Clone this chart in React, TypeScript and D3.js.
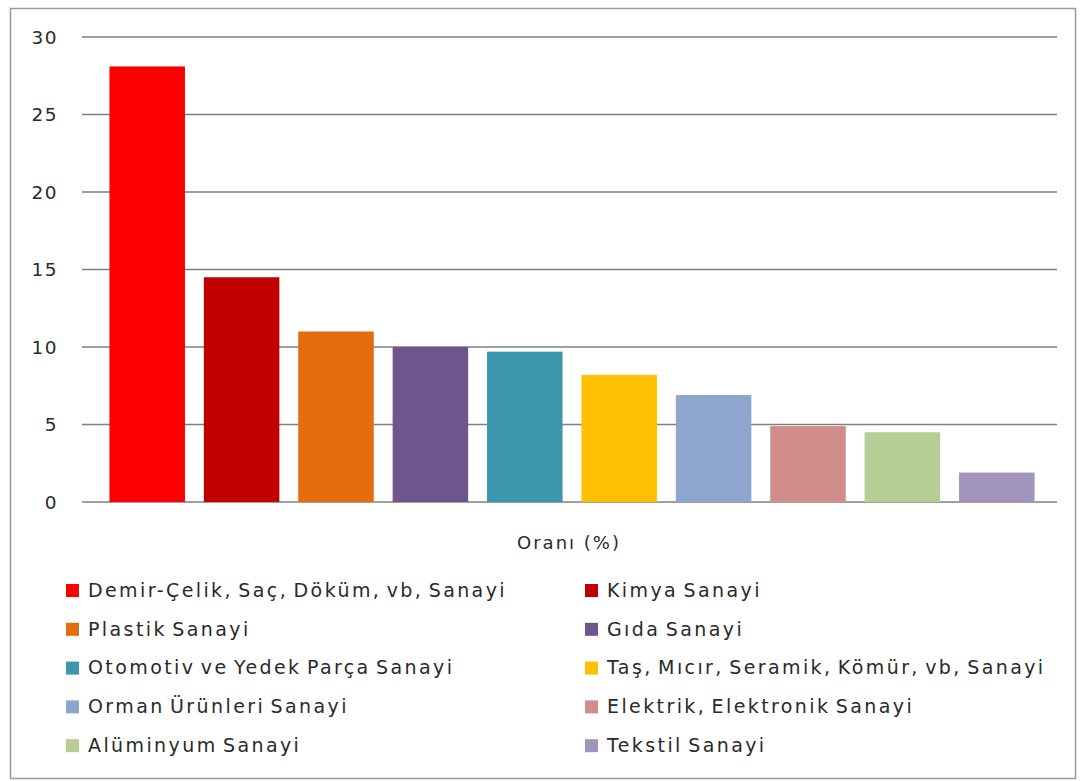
import { useEffect, useRef } from "react";
import * as d3 from "d3";

// Sector shares (%)
const SECTORS = [
  "Demir-Çelik, Saç, Döküm, vb, Sanayi",
  "Kimya Sanayi",
  "Plastik Sanayi",
  "Gıda Sanayi",
  "Otomotiv ve Yedek Parça Sanayi",
  "Taş, Mıcır, Seramik, Kömür, vb, Sanayi",
  "Orman Ürünleri Sanayi",
  "Elektrik, Elektronik Sanayi",
  "Alüminyum Sanayi",
  "Tekstil Sanayi",
];
const SHARES = [28.1, 14.5, 11.0, 10.0, 9.7, 8.2, 6.9, 4.9, 4.5, 1.9];
const COLORS = [
  "#fe0000",
  "#c00000",
  "#e46c0a",
  "#70548e",
  "#3c97ae",
  "#fec000",
  "#8ea6cd",
  "#d38c8c",
  "#b6cd95",
  "#a295bd",
];
const Y_TICKS = [0, 5, 10, 15, 20, 25, 30];
const AXIS_TITLE = "Oranı (%)";

const W = 1083;
const H = 781;
const FONT = "'DejaVu Sans', Verdana, sans-serif";

export default function App() {
  const svgRef = useRef<SVGSVGElement>(null);

  useEffect(() => {
    if (!svgRef.current) return;
    const svg = d3.select(svgRef.current);
    svg.selectAll("*").remove();

    svg.append("rect").attr("width", W).attr("height", H).attr("fill", "#fff");

    // outer frame
    svg
      .append("rect")
      .attr("x", 10.5)
      .attr("y", 8.5)
      .attr("width", 1065)
      .attr("height", 770)
      .attr("fill", "none")
      .attr("stroke", "#9a9a9a")
      .attr("stroke-width", 1.5);

    const x = d3
      .scaleBand<string>()
      .domain(SECTORS)
      .range([100, 1044])
      .paddingInner(0.2)
      .paddingOuter(0.1);

    const y = d3.scaleLinear().domain([0, 30]).range([502, 37]);

    // gridlines + tick labels
    const grid = svg.append("g");
    grid
      .selectAll("line")
      .data(Y_TICKS)
      .join("line")
      .attr("x1", 82)
      .attr("x2", 1057)
      .attr("y1", (d) => y(d))
      .attr("y2", (d) => y(d))
      .attr("stroke", "#7f7f7f")
      .attr("stroke-width", 1.5);

    grid
      .selectAll("text")
      .data(Y_TICKS)
      .join("text")
      .attr("x", 58)
      .attr("y", (d) => y(d))
      .attr("dy", "0.36em")
      .attr("text-anchor", "end")
      .attr("font-family", FONT)
      .attr("font-size", 18.5)
      .attr("letter-spacing", 1.5)
      .attr("fill", "#2a2a2a")
      .text((d) => String(d));

    // bars
    svg
      .append("g")
      .selectAll("rect")
      .data(SECTORS)
      .join("rect")
      .attr("x", (d) => x(d) ?? 0)
      .attr("width", x.bandwidth())
      .attr("y", (_, i) => y(SHARES[i]))
      .attr("height", (_, i) => y(0) - y(SHARES[i]))
      .attr("fill", (_, i) => COLORS[i]);

    // axis title
    svg
      .append("text")
      .attr("x", 569)
      .attr("y", 543)
      .attr("dy", "0.36em")
      .attr("text-anchor", "middle")
      .attr("font-family", FONT)
      .attr("font-size", 18)
      .attr("letter-spacing", 2)
      .attr("fill", "#2a2a2a")
      .text(AXIS_TITLE);

    // legend, two columns
    const legend = svg.append("g");
    const item = legend
      .selectAll("g")
      .data(SECTORS)
      .join("g")
      .attr("transform", (_, i) => {
        const col = i % 2;
        const row = Math.floor(i / 2);
        return `translate(${col === 0 ? 66 : 585},${590 + row * 38.8})`;
      });

    item
      .append("rect")
      .attr("x", 0)
      .attr("y", -6)
      .attr("width", 13)
      .attr("height", 13)
      .attr("fill", (_, i) => COLORS[i]);

    item
      .append("text")
      .attr("x", 22)
      .attr("y", 0)
      .attr("dy", "0.36em")
      .attr("font-family", FONT)
      .attr("font-size", 19)
      .attr("letter-spacing", 2.4)
      .attr("word-spacing", -3)
      .attr("fill", "#2a2a2a")
      .text((d) => d);
  }, []);

  return (
    <svg
      ref={svgRef}
      width={W}
      height={H}
      style={{ position: "absolute", left: 0, top: 0 }}
    />
  );
}
